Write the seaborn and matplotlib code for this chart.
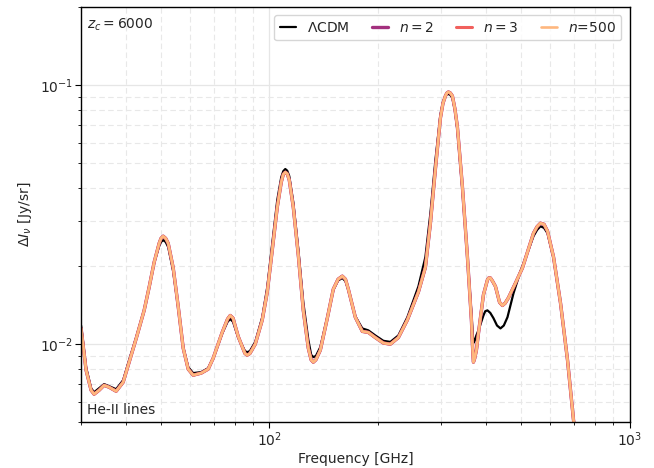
import numpy as np
import pandas as pd
import matplotlib
matplotlib.use("Agg")
import matplotlib.pyplot as plt
import seaborn as sns

# ---- data ----
freq_lcdm = [30.0, 30.97, 31.98, 32.60, 33.66, 34.75, 35.89, 37.53, 39.25, 40.78,
             42.65, 44.89, 46.35, 47.85, 49.41, 50.0, 50.69, 51.5, 52.34, 54.04, 55.79, 57.61,
             59.48, 61.41, 64.63, 67.59, 69.79, 73.92, 76.5, 77.80, 79.2, 81.88, 85.5, 86.74, 88.2, 91.30,
             95.48, 98.59, 101.79, 105.10, 107.81, 109.2, 110.61, 112.0, 113.47, 116.42, 120.20, 124.11,
             128.15, 130.5, 132.32, 134.5, 138.38, 144.71, 150.36, 155.0, 159.26, 162.5, 165.50, 173.07,
             181.00, 188.08, 196.70, 207.02, 216.49, 227.85, 241.35, 259.00, 270.85, 279.65, 288.71,
             298.09, 303.0, 307.77, 310.5, 313.74, 317.5, 321.85, 327.0, 332.30, 343.13, 354.29, 363.44,
             366.0, 368.12, 371.0, 375.0, 380.09, 392.45, 397.0, 402.60, 410.0, 418.35, 428.0, 437.53,
             447.0, 457.58, 475.46, 497.22, 523.35, 540.38, 553.0, 565.09, 578.0, 591.00,
             614.14, 642.27, 671.61, 697.90, 711.42]
dI_lcdm = [0.0118, 0.00815, 0.00676, 0.00652, 0.00676, 0.00701, 0.00688, 0.00670, 0.00726, 0.00868,
           0.0106, 0.0135, 0.0166, 0.0206, 0.0239, 0.0248, 0.0252, 0.0248, 0.0237, 0.0191, 0.0139, 0.00974,
           0.00815, 0.00773, 0.00780, 0.00808, 0.00883, 0.0110, 0.0122, 0.0125, 0.0122, 0.0106, 0.00940, 0.00931, 0.00940, 0.0102,
           0.0127, 0.0166, 0.0245, 0.0360, 0.0441, 0.0465, 0.0474, 0.0467, 0.0445, 0.0353, 0.0233, 0.0145,
           0.0104, 0.0091, 0.00891, 0.0090, 0.00974, 0.0127, 0.0162, 0.0176, 0.0180, 0.0175, 0.0162, 0.0128,
           0.0115, 0.0113, 0.0108, 0.0103, 0.0102, 0.0108, 0.0127, 0.0167, 0.0217, 0.0320, 0.0513,
           0.0766, 0.0860, 0.0907, 0.0920, 0.0923, 0.0916, 0.0891, 0.0800, 0.0670, 0.0393, 0.0217, 0.0132,
           0.0112, 0.0101, 0.0103, 0.0108, 0.0113, 0.0129, 0.0134, 0.0135, 0.0132, 0.0126, 0.0118, 0.0115,
           0.0118, 0.0127, 0.0157, 0.0191, 0.0231, 0.0261, 0.0276, 0.0285, 0.0281, 0.0268,
           0.0215, 0.0144, 0.00868, 0.00509, 0.00426]

freq_n = [30.0, 30.97, 31.98, 32.60, 33.66, 34.75, 35.89, 37.53, 39.25, 40.78,
          42.65, 44.89, 46.35, 47.85, 49.41, 50.0, 50.69, 51.5, 52.34, 54.04, 55.79, 57.61,
          59.48, 61.41, 64.63, 67.59, 69.79, 73.92, 76.5, 77.80, 79.2, 81.88, 85.5, 86.74, 88.2, 91.30,
          95.48, 98.59, 101.79, 105.10, 107.81, 109.2, 110.61, 112.0, 113.47, 116.42, 120.20, 124.11,
          128.15, 130.5, 132.32, 134.5, 138.38, 144.71, 150.36, 155.0, 159.26, 162.5, 165.50, 173.07,
          181.00, 188.08, 196.70, 207.02, 216.49, 227.85, 241.35, 259.00, 270.85, 279.65, 288.71,
          298.09, 303.0, 307.77, 310.5, 313.74, 317.5, 321.85, 327.0, 332.30, 343.13, 354.29, 363.44,
          366.0, 368.12, 371.0, 375.25, 380.09, 392.45, 402.60, 406.0, 410.40, 416.0, 423.76, 435.0,
          443.15, 451.0, 460.52, 481.58, 503.64, 523.35, 540.38, 553.0, 565.09, 578.0, 591.00,
          614.14, 642.27, 671.61, 697.90, 711.42]
dI_n500 = [0.0115, 0.00794, 0.00664, 0.00641, 0.00664, 0.00694, 0.00682, 0.00658, 0.00713, 0.00852,
           0.0105, 0.0135, 0.0166, 0.0207, 0.0245, 0.0256, 0.0261, 0.0256, 0.0245, 0.0197, 0.0140, 0.00965,
           0.00801, 0.00759, 0.00773, 0.00801, 0.00883, 0.0111, 0.0125, 0.0129, 0.0126, 0.0107, 0.0092, 0.00907, 0.0092, 0.0100,
           0.0124, 0.0159, 0.0231, 0.0338, 0.0422, 0.0452, 0.0461, 0.0455, 0.0430, 0.0338, 0.0221, 0.0135,
           0.00965, 0.0087, 0.00852, 0.0087, 0.00948, 0.0126, 0.0163, 0.0178, 0.0183, 0.0178, 0.0163, 0.0127,
           0.0112, 0.0111, 0.0106, 0.0101, 0.0100, 0.0106, 0.0124, 0.0159, 0.0198, 0.0293, 0.0474,
           0.0746, 0.0850, 0.0907, 0.0930, 0.0940, 0.0932, 0.0907, 0.0810, 0.0688, 0.0404, 0.0217, 0.0124,
           0.0098, 0.00852, 0.0088, 0.00948, 0.0110, 0.0155, 0.0177, 0.0180, 0.0180, 0.0175, 0.0167, 0.0145,
           0.0141, 0.0144, 0.0151, 0.0172, 0.0197, 0.0233, 0.0268, 0.0284, 0.0293, 0.0290, 0.0273,
           0.0217, 0.0144, 0.00868, 0.00509, 0.00426]
dI_n3 = list(dI_n500)
dI_n2 = list(dI_n500)

labels = [r"$\Lambda$CDM", r"$n=2$", r"$n=3$", r"$n$=500"]
colors = ["#000000", "#a3307e", "#f1605d", "#feb77e"]

# ---- figure ----
sns.set_style("ticks")
plt.rcParams['font.family'] = ['DejaVu Sans']
fig = plt.figure(figsize=(6.54, 4.68), dpi=100)
ax = fig.add_axes([0.124, 0.098, 0.839, 0.887])

series = [(freq_lcdm, dI_lcdm), (freq_n, dI_n2), (freq_n, dI_n3), (freq_n, dI_n500)]
widths = [1.6, 2.4, 2.2, 1.9]
for (fx, fy), lab, col, lw in zip(series, labels, colors, widths):
    df = pd.DataFrame({"f": fx, "dI": fy})
    sns.lineplot(data=df, x="f", y="dI", ax=ax, color=col, lw=lw, label=lab,
                 sort=False, estimator=None)

ax.set_xscale("log")
ax.set_yscale("log")
ax.set_xlim(30, 1000)
ax.set_ylim(5e-3, 2e-1)

ax.grid(True, which="major", color="#e6e6e6", lw=0.9, ls="-")
ax.grid(True, which="minor", color="#e8e8e8", lw=0.8, ls=(0, (5, 3)))
ax.set_axisbelow(True)

for s in ax.spines.values():
    s.set_color("black")
    s.set_linewidth(1.0)
ax.tick_params(which="both", direction="out", color="black", labelsize=10,
               top=False, right=False, pad=2)
ax.tick_params(which="major", length=4)
ax.tick_params(which="minor", length=2.5)

ax.set_xlabel("Frequency [GHz]", fontsize=10, labelpad=2)
ax.set_ylabel(r"$\Delta I_\nu$ [Jy/sr]", fontsize=10, labelpad=4)

ax.text(0.011, 0.957, r"$z_c = 6000$", transform=ax.transAxes, fontsize=10,
        ha="left", va="center")
ax.text(0.011, 0.03, "He-II lines", transform=ax.transAxes, fontsize=10,
        ha="left", va="center")

leg = ax.legend(loc="upper right", ncol=4, fontsize=10, frameon=True,
                columnspacing=1.6, handlelength=1.15, borderaxespad=0.6)
leg.get_frame().set_edgecolor("#cccccc")

fig.savefig("out.png", dpi=100)
